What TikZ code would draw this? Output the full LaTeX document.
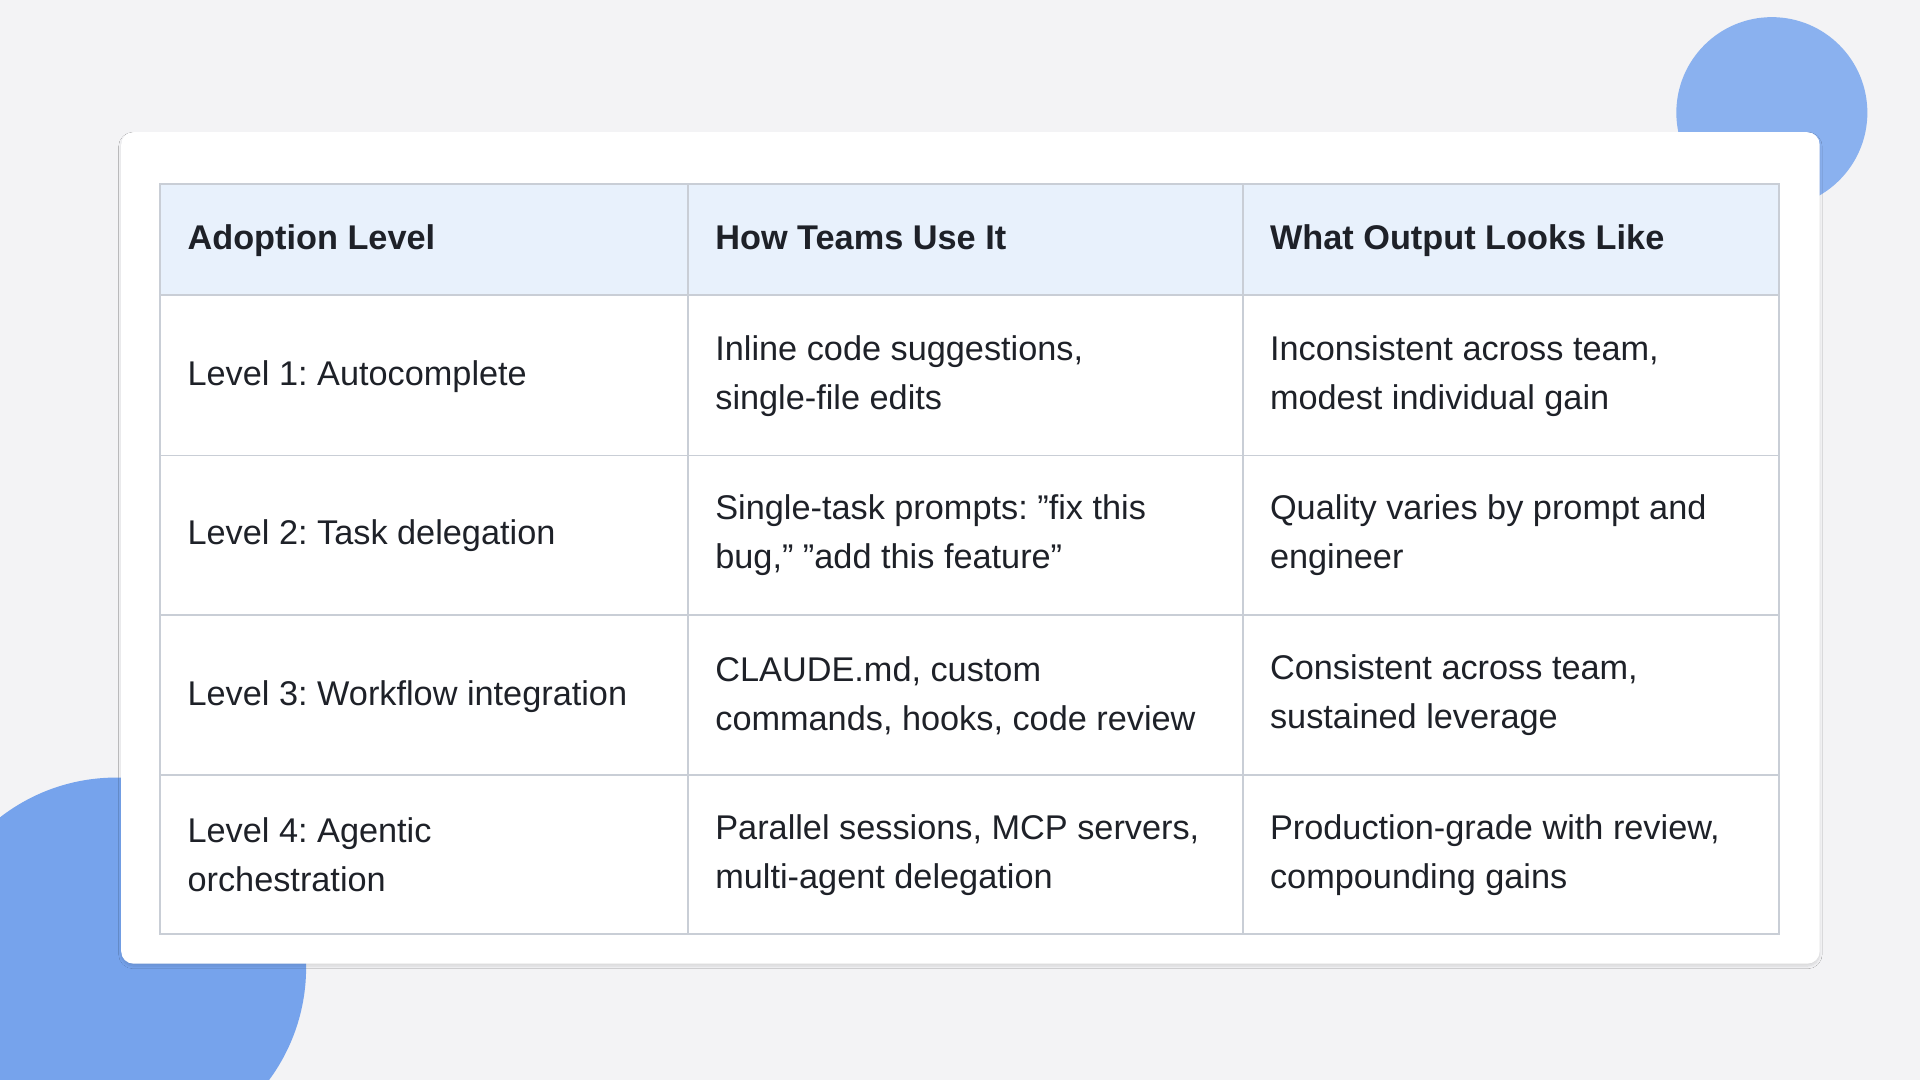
\documentclass[tikz,border=0pt]{standalone}
\usepackage{fontspec}
\setmainfont{Liberation Sans}
\usepackage{xcolor}
\definecolor{colorPage}{HTML}{F3F3F5}
\definecolor{colorHead}{HTML}{E8F1FC}
\definecolor{colorGrid}{HTML}{C9CED6}
\definecolor{colorBlob}{HTML}{76A3EC}
\definecolor{colorText}{HTML}{1E2128}
\usetikzlibrary{positioning, shadows.blur}
\newcommand{\dq}{\symbol{34}}
\frenchspacing
\tikzset{cell/.style={anchor=west, align=left, text=colorText, font=\fontsize{28}{40}\selectfont, inner sep=0pt},
         head/.style={cell, font=\fontsize{28}{40}\selectfont\bfseries}}

\begin{document}
\begin{tikzpicture}[x=1pt, y=-1pt]
\useasboundingbox (0,0) rectangle (1568,882);
\fill[colorPage] (0,0) rectangle (1568,882);
\fill[colorBlob!85] (1447,92) circle (78);
\fill[colorBlob] (95,790) circle (155);
\fill[white, rounded corners=10pt, blur shadow={shadow blur steps=10, shadow xshift=0pt, shadow yshift=-2pt, shadow opacity=12}] (99,108) rectangle (1486,787);
\fill[colorHead] (131,150) rectangle (1453,241);
% grid
\draw[colorGrid, line width=1.5pt] (131,150) rectangle (1453,763);
\foreach \y in {241,372,502,633} \draw[colorGrid, line width=1.5pt] (131,\y) -- (1453,\y);
\foreach \x in {562,1015} \draw[colorGrid, line width=1.5pt] (\x,150) -- (\x,763);
% header
\node[head] (h1) at (153,196) {\strut Adoption Level};
\node[head] (h2) at (584,196) {\strut How Teams Use It};
\node[head] (h3) at (1037,196) {\strut What Output Looks Like};
% rows
\node[cell] (a1) at (153,307) {\strut Level 1: Autocomplete};
\node[cell] (b1) at (584,307) {Inline code suggestions,\\single-file edits};
\node[cell] (c1) at (1037,307) {Inconsistent across team,\\modest individual gain};
\node[cell] (a2) at (153,437) {\strut Level 2: Task delegation};
\node[cell] (b2) at (584,437) {Single-task prompts: \dq fix this\\bug,\dq{} \dq add this feature\dq};
\node[cell] (c2) at (1037,437) {Quality varies by prompt and\\engineer};
\node[cell] (a3) at (153,568) {\strut Level 3: Workflow integration};
\node[cell] (b3) at (584,568) {CLAUDE.md, custom\\commands, hooks, code review};
\node[cell] (c3) at (1037,568) {Consistent across team,\\sustained leverage};
\node[cell] (a4) at (153,698) {Level 4: Agentic\\orchestration};
\node[cell] (b4) at (584,698) {Parallel sessions, MCP servers,\\multi-agent delegation};
\node[cell] (c4) at (1037,698) {Production-grade with review,\\compounding gains};
\end{tikzpicture}
\end{document}
